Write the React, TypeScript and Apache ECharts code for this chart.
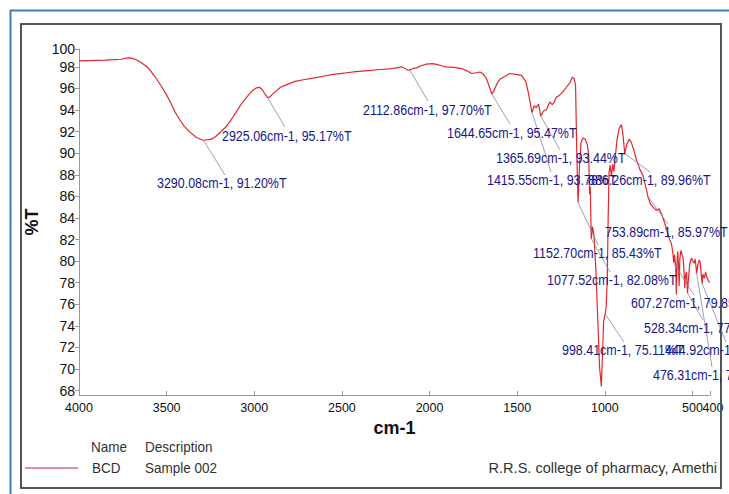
import React, { useEffect, useRef } from "react";
import * as echarts from "echarts";

// ---- data ----
const wavenumbers = [
  4000, 3950, 3900, 3850, 3800, 3760, 3720, 3700, 3680, 3650, 3620, 3600, 3567, 3530, 3500, 3475, 3452, 3425, 3400,
  3367, 3330, 3291, 3260, 3243, 3220, 3200, 3167, 3140, 3120, 3100, 3072, 3050, 3030, 3010, 2987, 2970, 2955, 2940,
  2925, 2912, 2900, 2882, 2865, 2850, 2808, 2768, 2720, 2664, 2600, 2550, 2500, 2473, 2420, 2350, 2283, 2230, 2190,
  2160, 2140, 2125, 2112.86, 2095, 2074, 2050, 2017, 1985, 1960, 1930, 1903, 1860, 1817, 1790, 1760, 1735, 1713, 1695,
  1675, 1660, 1644.65, 1632, 1615, 1599, 1570, 1542, 1510, 1475, 1450, 1435, 1415.55, 1403, 1392, 1378, 1365.69, 1350,
  1333, 1314, 1300, 1290, 1276, 1260, 1238, 1215, 1200, 1185, 1175, 1167, 1160, 1152.7, 1145, 1136, 1125, 1112, 1100,
  1092, 1087, 1083, 1077.52, 1070, 1062, 1052, 1040, 1030, 1020, 1013, 1007, 998.41, 992, 986, 981, 976, 970, 962, 955,
  948, 940, 930, 918, 905, 896, 886.26, 875, 862, 850, 835, 820, 800, 782, 768, 753.89, 740, 725, 706, 690, 677, 660,
  648, 639, 628, 620, 612, 607.27, 602, 596, 592, 588, 584, 580, 576, 572, 566, 560, 553, 548, 544, 540, 534, 528.34,
  522, 515, 505, 498, 490, 484, 476.31, 470, 462, 456, 450, 444.92, 440, 432, 425, 418, 410, 403,
];
const transmittance = [
  98.55, 98.58, 98.6, 98.62, 98.66, 98.7, 98.82, 98.8, 98.7, 98.45, 98.1, 97.8, 97.1, 96.2, 95.4, 94.6, 93.82, 93.1, 92.5,
  91.95, 91.45, 91.2, 91.25, 91.3, 91.55, 91.85, 92.35, 92.9, 93.4, 93.9, 94.6, 95.05, 95.45, 95.8, 96.05, 96.1, 95.9, 95.5,
  95.17, 95.2, 95.4, 95.68, 95.9, 96.1, 96.4, 96.65, 96.8, 96.95, 97.15, 97.3, 97.4, 97.45, 97.55, 97.65, 97.75, 97.8, 97.9,
  98.0, 97.85, 97.7, 97.7, 97.85, 97.9, 98.1, 98.25, 98.3, 98.22, 98.1, 98.0, 97.95, 97.84, 97.65, 97.38, 97.45, 97.52, 97.35,
  96.9, 96.2, 95.47, 95.8, 96.45, 96.85, 97.1, 97.38, 97.3, 97.2, 96.6, 95.5, 93.76, 94.4, 94.2, 94.55, 93.44, 93.9,
  94.05, 94.75, 94.5, 94.7, 95.2, 95.35, 95.7, 96.2, 96.5, 97.05, 96.9, 96.3, 90.0, 85.43, 88.6, 91.0, 91.4, 91.3, 90.8,
  89.8, 86.2, 86.9, 82.08, 83.2, 82.4, 79.5, 74.5, 70.2, 68.4, 71.5, 74.4, 75.11, 75.8, 78.5, 84.0, 88.2, 88.9, 87.9, 89.0,
  88.3, 89.7, 91.3, 92.3, 92.65, 91.6, 89.96, 90.8, 91.3, 91.05, 90.3, 89.4, 88.5, 87.9, 87.0, 85.97, 85.3, 85.0, 84.7, 84.85, 84.4, 83.6,
  83.0, 82.4, 81.9, 81.6, 80.8, 79.85, 80.6, 79.6, 76.9, 79.8, 80.9, 79.7, 77.7, 80.2, 81.0, 80.6, 80.3, 78.9, 77.5, 78.6, 79.0, 77.05,
  78.6, 79.8, 80.3, 80.0, 79.8, 80.2, 78.86, 79.6, 80.1, 79.9, 78.8, 77.92, 78.8, 78.4, 79.0, 78.5, 78.2, 78.0,
];

const peakWavenumbers = [
  3290.08, 2925.06, 2112.86, 1644.65, 1365.69, 1415.55, 886.26, 753.89, 1152.7, 1077.52, 607.27, 528.34, 998.41, 444.92, 476.31,
];
const peakTransmittance = [91.2, 95.17, 97.7, 95.47, 93.44, 93.78, 89.96, 85.97, 85.43, 82.08, 79.85, 77.05, 75.11, 77.92, 78.86];

const xTicks = [4000, 3500, 3000, 2500, 2000, 1500, 1000, 500, 400];
const xEndTick = [400];
const yTicks = [68, 70, 72, 74, 76, 78, 80, 82, 84, 86, 88, 90, 92, 94, 96, 98, 100];

const legendHeader = ["Name", "Description"];
const legendRow = ["BCD", "Sample 002"];
const footerText = "R.R.S. college of pharmacy, Amethi";

// ---- layout (pixels) ----
const labelPos = [
  [157, 183], [222, 136], [363, 110], [447, 133], [496, 158], [487, 180], [588, 180], [605, 232],
  [533, 253], [547, 280], [631, 303], [644, 328], [562, 350], [665, 350], [653, 375],
];
const lineEnd = [
  [225, 175], [285, 127], [428, 101], [510, 124], [560, 150], [551, 172], [650, 172], [668, 224],
  [598, 245], [610, 272], [694, 295], [703, 320], [624, 342], [726, 342], [712, 367],
];

const Y_MIN = 67.6;
const Y_MAX = 99.65;
const FONT = "'Liberation Sans', Arial, sans-serif";

export default function App() {
  const ref = useRef<HTMLDivElement>(null);

  useEffect(() => {
    if (!ref.current) return;
    const chart = echarts.init(ref.current, undefined, { renderer: "svg" });
    const yTickValues = yTicks.map((v) => Math.min(v, Y_MAX));
    const mainXTicks = xTicks.filter((v) => !xEndTick.includes(v));

    const textEl = (
      text: string,
      x: number,
      y: number,
      opts: { align?: string; size?: number; scaleX?: number; fill?: string; z?: number } = {}
    ) => {
      const align = opts.align || "left";
      return {
        type: "text",
        x,
        y,
        scaleX: opts.scaleX ?? 1,
        z: opts.z ?? 20,
        style: {
          text,
          fill: opts.fill || "#333",
          font: `${opts.size || 15}px ${FONT}`,
          textAlign: align,
          align,
          textVerticalAlign: "middle",
          verticalAlign: "middle",
        },
      };
    };

    const staticGraphics: any[] = [
      {
        type: "polyline",
        z: 1,
        shape: { points: [[10.5, 494], [10.5, 10.5], [729, 10.5]] },
        style: { fill: "none", stroke: "#3b80b8", lineWidth: 2 },
      },
      {
        type: "rect",
        z: 1,
        shape: { x: 21, y: 24, width: 700, height: 464 },
        style: { fill: "none", stroke: "#555", lineWidth: 2 },
      },
      {
        type: "line",
        z: 20,
        shape: { x1: 25, y1: 468, x2: 78, y2: 468 },
        style: { stroke: "#c8203e", lineWidth: 1 },
      },
      textEl(legendHeader[0], 91, 447, { scaleX: 0.9 }),
      textEl(legendHeader[1], 145, 447, { scaleX: 0.9 }),
      textEl(legendRow[0], 92, 468, { scaleX: 0.9 }),
      textEl(legendRow[1], 145, 468, { scaleX: 0.9 }),
      textEl(footerText, 717, 468, { align: "right", scaleX: 0.97 }),
      ...peakWavenumbers.map((w, i) =>
        textEl(`${w.toFixed(2)}cm-1, ${peakTransmittance[i].toFixed(2)}%T`, labelPos[i][0], labelPos[i][1], {
          size: 14.5,
          scaleX: 0.86,
          fill: "#16168c",
          z: 30,
        })
      ),
    ];

    const xBase = {
      type: "value",
      min: 400,
      max: 4000,
      inverse: true,
      position: "bottom",
      splitLine: { show: false },
    };

    chart.setOption({
      animation: false,
      grid: { left: 79, right: 19, top: 49, bottom: 99, containLabel: false },
      xAxis: [
        {
          ...xBase,
          name: "cm-1",
          nameLocation: "middle",
          nameGap: 24,
          nameTextStyle: { fontSize: 18, fontWeight: "bold", color: "#111", fontFamily: FONT },
          axisLine: { show: true, lineStyle: { color: "#999", width: 1 } },
          axisTick: { show: true, inside: true, length: 4, lineStyle: { color: "#999" }, customValues: xTicks },
          axisLabel: {
            customValues: mainXTicks,
            formatter: (v: number) => String(v),
            hideOverlap: false,
            color: "#111",
            fontSize: 12.5,
            margin: 6,
            fontFamily: FONT,
          },
        },
        {
          ...xBase,
          axisLine: { show: false },
          axisTick: { show: false },
          axisLabel: {
            customValues: xEndTick,
            formatter: (v: number) => `{a|${v}}`,
            rich: { a: { padding: [0, 0, 0, 6], fontSize: 12.5, color: "#111", fontFamily: FONT } },
            color: "#111",
            fontSize: 12.5,
            margin: 6,
            fontFamily: FONT,
          },
        },
      ],
      yAxis: {
        type: "value",
        min: Y_MIN,
        max: Y_MAX,
        name: "%T",
        nameLocation: "middle",
        nameGap: 38,
        nameRotate: 90,
        nameTextStyle: { fontSize: 18, fontWeight: "bold", color: "#111", fontFamily: FONT },
        axisLine: { show: true, lineStyle: { color: "#999", width: 1 } },
        axisTick: { show: true, length: 4, lineStyle: { color: "#999" }, customValues: yTickValues },
        axisLabel: {
          customValues: yTickValues,
          formatter: (v: number) => String(Math.round(v)),
          showMinLabel: true,
          showMaxLabel: true,
          color: "#111",
          fontSize: 14,
          margin: 4,
          fontFamily: FONT,
        },
        splitLine: { show: false },
      },
      series: [
        {
          type: "line",
          name: "BCD",
          xAxisIndex: 0,
          data: wavenumbers.map((w, i) => [w, transmittance[i]]),
          showSymbol: false,
          symbol: "none",
          lineStyle: { color: "#e3262e", width: 1.2 },
          itemStyle: { color: "#e3262e" },
          silent: true,
          z: 3,
        },
      ],
      graphic: { elements: staticGraphics },
    });

    const lines = peakWavenumbers.map((w, i) => {
      const p = chart.convertToPixel({ xAxisIndex: 0, yAxisIndex: 0 }, [w, peakTransmittance[i]]) as number[];
      return {
        type: "line",
        z: 4,
        shape: { x1: p[0], y1: p[1], x2: lineEnd[i][0], y2: lineEnd[i][1] },
        style: { stroke: "#8486a8", lineWidth: 0.8 },
      };
    });
    chart.setOption({ graphic: { elements: [...staticGraphics, ...lines] } });

    return () => chart.dispose();
  }, []);

  return (
    <div
      ref={ref}
      style={{ position: "fixed", left: 0, top: 0, width: 729, height: 494, background: "#fff" }}
    />
  );
}
